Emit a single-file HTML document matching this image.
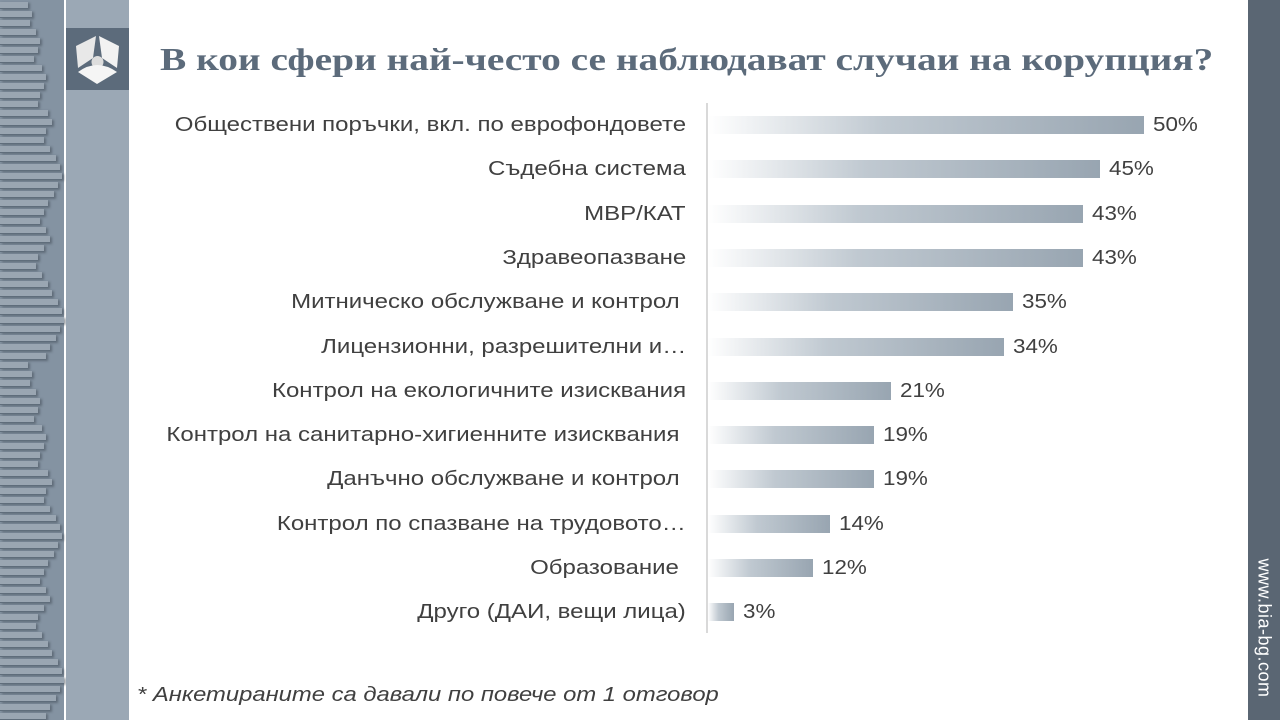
<!DOCTYPE html>
<html><head><meta charset="utf-8"><style>
body{margin:0;width:1280px;height:720px;position:relative;overflow:hidden;background:#fff;font-family:"Liberation Sans",sans-serif}
.l{position:absolute;left:0;top:0;width:64px;height:720px;background:#8493a2}
.s{position:absolute;left:0;height:6px;background:#9aa6b2;border-bottom:1px solid #5f6d7b;box-shadow:2px 1px 2px rgba(60,70,80,.5)}
.c{position:absolute;left:66px;top:0;width:63px;height:720px;background:#9ba8b5}
.logo{position:absolute;left:66px;top:28px;width:63px;height:62px;background:#5c6b7b}
.r{position:absolute;left:1248px;top:0;width:32px;height:720px;background:#5a6673}
.t{position:absolute;left:160px;top:41px;font-family:"Liberation Serif",serif;font-weight:bold;font-size:32px;transform:scaleX(1.23);transform-origin:left;color:#5c6b7b;white-space:nowrap}
.lab{position:absolute;right:594px;font-size:20px;transform:scaleX(1.2);transform-origin:right;color:#404040;white-space:nowrap;line-height:20px}
.bar{position:absolute;left:708px;height:18px;background:linear-gradient(to right,#fff,#c0c9d1 40%,#98a5b1)}
.v{position:absolute;font-size:20px;transform:scaleX(1.12);transform-origin:left;color:#404040;line-height:20px}
.ax{position:absolute;left:706px;top:103px;width:2px;height:530px;background:#d9d9d9}
.n{position:absolute;left:137px;top:684px;font-style:italic;font-size:20px;transform:scaleX(1.19);transform-origin:left;color:#404040;white-space:nowrap}
.w{position:absolute;left:1264px;top:628px;transform:translate(-50%,-50%) rotate(90deg);color:#fff;font-size:18px;letter-spacing:0.5px;white-space:nowrap}
</style></head><body>
<div class="l" id="l"></div>
<div class="c"></div>
<div class="logo"><svg width="63" height="62" viewBox="0 0 63 62"><polygon points="30,8 10,18 12,40 27,30" fill="#e8e8e8"/><polygon points="33,8 53,18 51,40 36,30" fill="#f2f2f2"/><circle cx="31.5" cy="34" r="6" fill="#ddd"/><path d="M12,44 Q31,30 51,44 L31,56 Z" fill="#f5f5f5"/></svg></div>
<div class="r"></div>
<div class="t">В кои сфери най-често се наблюдават случаи на корупция?</div>
<div class="ax"></div>
<div id="rows"></div>
<div class="n">* Анкетираните са давали по повече от 1 отговор</div>
<div class="w">www.bia-bg.com</div>
<script>
var d=[["Обществени поръчки, вкл. по еврофондовете",50],["Съдебна система",45],["МВР/КАТ",43],["Здравеопазване",43],["Митническо обслужване и контрол&nbsp;",35],["Лицензионни, разрешителни и…",34],["Контрол на екологичните изисквания",21],["Контрол на санитарно-хигиенните изисквания&nbsp;",19],["Данъчно обслужване и контрол&nbsp;",19],["Контрол по спазване на трудовото…",14],["Образование&nbsp;",12],["Друго (ДАИ, вещи лица)",3]];
var h="";d.forEach(function(r,i){var c=125+i*44.3,w=r[1]*8.72;
h+='<div class="lab" style="top:'+(c-10)+'px">'+r[0]+'</div><div class="bar" style="top:'+(c-9)+'px;width:'+w+'px"></div><div class="v" style="left:'+(708+w+9)+'px;top:'+(c-10)+'px">'+r[1]+'%</div>';});
document.getElementById("rows").innerHTML=h;
var s="",y=2,ws=[28,32,30,36,40,38,34,42,46,44,40,38,48,52,46,44,50,56,60,62,58,54,48,44,40,46,50,44,38,36,42,48,52,58,62,64,60,56,50,46];
for(var i=0;y<720;i++){s+='<div class="s" style="top:'+y+'px;width:'+ws[i%ws.length]+'px"></div>';y+=9;}
document.getElementById("l").innerHTML=s;
</script>
</body></html>
